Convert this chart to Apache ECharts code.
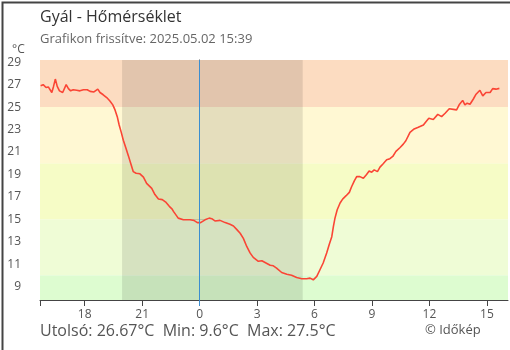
<!DOCTYPE html>
<html>
<head>
<meta charset="utf-8">
<script src="https://cdn.jsdelivr.net/npm/echarts@6/dist/echarts.min.js"></script>
<style>
html,body{margin:0;padding:0;background:#fff;}
#c{width:510px;height:350px;}
</style>
</head>
<body>
<div id="c"></div>
<script>
// ---- data ----
const times = [
"05.01 15:42","05.01 15:50","05.01 15:59","05.01 16:06","05.01 16:11","05.01 16:17","05.01 16:22","05.01 16:28","05.01 16:34","05.01 16:41",
"05.01 16:46","05.01 16:51","05.01 17:02","05.01 17:09","05.01 17:16","05.01 17:24","05.01 17:35","05.01 17:45","05.01 17:56","05.01 18:08",
"05.01 18:17","05.01 18:29","05.01 18:41","05.01 18:48","05.01 18:58","05.01 19:09","05.01 19:19","05.01 19:28","05.01 19:35","05.01 19:42",
"05.01 19:48","05.01 19:55","05.01 20:01","05.01 20:09","05.01 20:17","05.01 20:24","05.01 20:32","05.01 20:41","05.01 20:53","05.01 21:04",
"05.01 21:14","05.01 21:30","05.01 21:40","05.01 21:51","05.01 22:03","05.01 22:15","05.01 22:25","05.01 22:34","05.01 22:38","05.01 22:53",
"05.01 23:09","05.01 23:30","05.01 23:42","05.01 23:53","05.02 00:03","05.02 00:17","05.02 00:30","05.02 00:38","05.02 00:48","05.02 01:04",
"05.02 01:20","05.02 01:35","05.02 01:46","05.02 01:56","05.02 02:07","05.02 02:17","05.02 02:28","05.02 02:38","05.02 02:48","05.02 03:04",
"05.02 03:15","05.02 03:25","05.02 03:41","05.02 03:51","05.02 04:01","05.02 04:17","05.02 04:33","05.02 04:48","05.02 05:04","05.02 05:20",
"05.02 05:35","05.02 05:46","05.02 05:56","05.02 06:07","05.02 06:17","05.02 06:27","05.02 06:38","05.02 06:46","05.02 06:54","05.02 06:59",
"05.02 07:04","05.02 07:11","05.02 07:20","05.02 07:28","05.02 07:39","05.02 07:49","05.02 07:56","05.02 08:05","05.02 08:12","05.02 08:22",
"05.02 08:33","05.02 08:43","05.02 08:51","05.02 08:59","05.02 09:07","05.02 09:17","05.02 09:25","05.02 09:35","05.02 09:46","05.02 09:56",
"05.02 10:05","05.02 10:15","05.02 10:28","05.02 10:38","05.02 10:46","05.02 10:59","05.02 11:12","05.02 11:25","05.02 11:41","05.02 11:49",
"05.02 11:58","05.02 12:12","05.02 12:26","05.02 12:38","05.02 12:49","05.02 13:02","05.02 13:15","05.02 13:25","05.02 13:33","05.02 13:44",
"05.02 13:51","05.02 13:58","05.02 14:07","05.02 14:17","05.02 14:26","05.02 14:38","05.02 14:47","05.02 14:57","05.02 15:10","05.02 15:18",
"05.02 15:28","05.02 15:39"
];
const temps = [
26.9,27.0,26.75,26.8,26.95,26.3,26.8,27.5,26.85,26.45,
26.6,26.3,27.0,26.65,26.45,26.55,26.5,26.45,26.55,26.55,
26.4,26.35,26.6,26.3,26.1,25.85,25.55,25.2,24.75,24.15,
23.4,22.7,22.05,21.35,20.65,20.0,19.25,19.1,19.05,18.75,
18.2,17.75,17.2,16.8,16.75,16.5,16.15,15.9,15.7,15.1,
14.95,14.95,14.9,14.7,14.7,14.95,15.1,15.05,14.85,14.9,
14.7,14.55,14.4,14.1,13.75,13.3,12.55,12.0,11.6,11.25,
11.3,11.15,10.9,10.85,10.65,10.25,10.1,10.0,9.8,9.7,
9.7,9.75,9.6,9.9,10.5,11.1,12.0,12.75,13.45,14.35,
15.1,15.85,16.45,16.8,17.1,17.4,17.9,18.45,18.8,18.8,
18.65,19.0,19.3,19.2,19.4,19.25,19.65,19.95,20.3,20.4,
20.6,21.05,21.4,21.7,22.0,22.75,23.05,23.2,23.4,23.7,
24.0,23.9,24.35,24.15,24.45,24.85,24.8,24.75,25.2,25.6,
25.2,25.35,25.25,25.7,26.15,26.5,26.0,26.3,26.3,26.65,
26.6,26.67
];
const axisStart = "05.01 15:40";
const axisEnd = "05.02 16:06";
const sunset = "05.01 19:57";
const sunrise = "05.02 05:23";
const midnight = "05.02 00:00";
const xTickHours = [-6, -3, 0, 3, 6, 9, 12, 15];
const yTicks = [9, 11, 13, 15, 17, 19, 21, 23, 25, 27, 29];
const yMin = 7.8, yMax = 29.2;
const bandLimits = [yMin, 10, 15, 20, 25, yMax];
const bandColors = ['#ddfcd0', '#effcd6', '#f6fcc6', '#fff8d3', '#fcdcc1'];
const titleText = 'Gyál - Hőmérséklet';
const subText = 'Grafikon frissítve: 2025.05.02 15:39';
const footText = 'Utolsó: 26.67°C  Min: 9.6°C  Max: 27.5°C';
const copyText = '© Időkép';

// ---- helpers ----
function toHours(s) {
  const [d, t] = s.split(' ');
  const [hh, mm] = t.split(':').map(Number);
  return (d === '05.02' ? 0 : -24) + hh + mm / 60;
}
const points = times.map((t, i) => [toHours(t), temps[i]]);
const xMin = toHours(axisStart), xMax = toHours(axisEnd);

const areas = [];
for (let i = 0; i < bandColors.length; i++) {
  areas.push([{ yAxis: bandLimits[i], itemStyle: { color: bandColors[i] } }, { yAxis: bandLimits[i + 1] }]);
}
areas.push([{ xAxis: toHours(sunset), itemStyle: { color: 'rgba(0,0,0,0.1)' } }, { xAxis: toHours(sunrise) }]);

const FONT = '"Open Sans", "Noto Sans", sans-serif';
const chart = echarts.init(document.getElementById('c'));
chart.setOption({
  animation: false,
  grid: { left: 40, right: 2, top: 60, bottom: 50 },
  xAxis: [
    {
      type: 'value', min: xMin, max: xMax,
      axisLine: { show: true, lineStyle: { color: '#444', width: 1 } },
      axisTick: { show: true, length: 6, customValues: [xMin].concat(xTickHours), lineStyle: { color: '#444' } },
      axisLabel: { show: true, customValues: xTickHours, margin: 9, color: '#555', fontSize: 12, fontFamily: FONT,
        formatter: v => String(((Math.round(v) % 24) + 24) % 24) },
      splitLine: { show: false }
    },
    {
      type: 'value', min: xMin, max: xMax, position: 'bottom',
      axisLine: { show: false },
      axisTick: { show: true, inside: true, length: 6, customValues: xTickHours, lineStyle: { color: '#444' } },
      axisLabel: { show: false }, splitLine: { show: false }
    },
    {
      type: 'value', min: xMin, max: xMax, position: 'bottom',
      axisLine: { show: false },
      axisTick: { show: true, length: 6, customValues: [toHours(midnight)], lineStyle: { color: '#3b8ed0' } },
      axisLabel: { show: false }, splitLine: { show: false }
    }
  ],
  yAxis: [
    {
      type: 'value', min: yMin, max: yMax,
      axisLine: { show: true, lineStyle: { color: '#444', width: 1 } },
      axisTick: { show: true, length: 6, customValues: yTicks, lineStyle: { color: '#444' } },
      axisLabel: { show: true, customValues: yTicks, margin: 19, color: '#555', fontSize: 12, fontFamily: FONT },
      splitLine: { show: false }
    },
    {
      type: 'value', min: yMin, max: yMax, position: 'left',
      axisLine: { show: false },
      axisTick: { show: true, inside: true, length: 6, customValues: yTicks, lineStyle: { color: '#444' } },
      axisLabel: { show: false }, splitLine: { show: false }
    }
  ],
  graphic: [
    { type: 'rect', left: 0, top: 0, shape: { width: 510, height: 350 }, style: { fill: 'none', stroke: '#444', lineWidth: 2 }, z: 100 },
    { type: 'text', left: 40, top: 9, style: { text: titleText, font: '16px ' + FONT, fill: '#333' } },
    { type: 'text', left: 40, top: 33, style: { text: subText, font: '13px ' + FONT, fill: '#666' } },
    { type: 'text', left: 12, top: 44, style: { text: '°C', font: '12px ' + FONT, fill: '#555' } },
    { type: 'text', left: 40, top: 323, style: { text: footText, font: '16px ' + FONT, fill: '#555' } },
    { type: 'text', left: 425, top: 324, style: { text: copyText, font: '13px ' + FONT, fill: '#555' } }
  ],
  series: [
    {
      type: 'line', data: points, xAxisIndex: 0, yAxisIndex: 0,
      showSymbol: false, symbol: 'none',
      lineStyle: { color: '#fa4535', width: 1.6 },
      markArea: { silent: true, data: areas },
      markLine: { silent: true, symbol: 'none', label: { show: false },
        lineStyle: { color: '#3b8ed0', width: 1, type: 'solid' },
        data: [{ xAxis: toHours(midnight) }] }
    }
  ]
});
</script>
</body>
</html>
